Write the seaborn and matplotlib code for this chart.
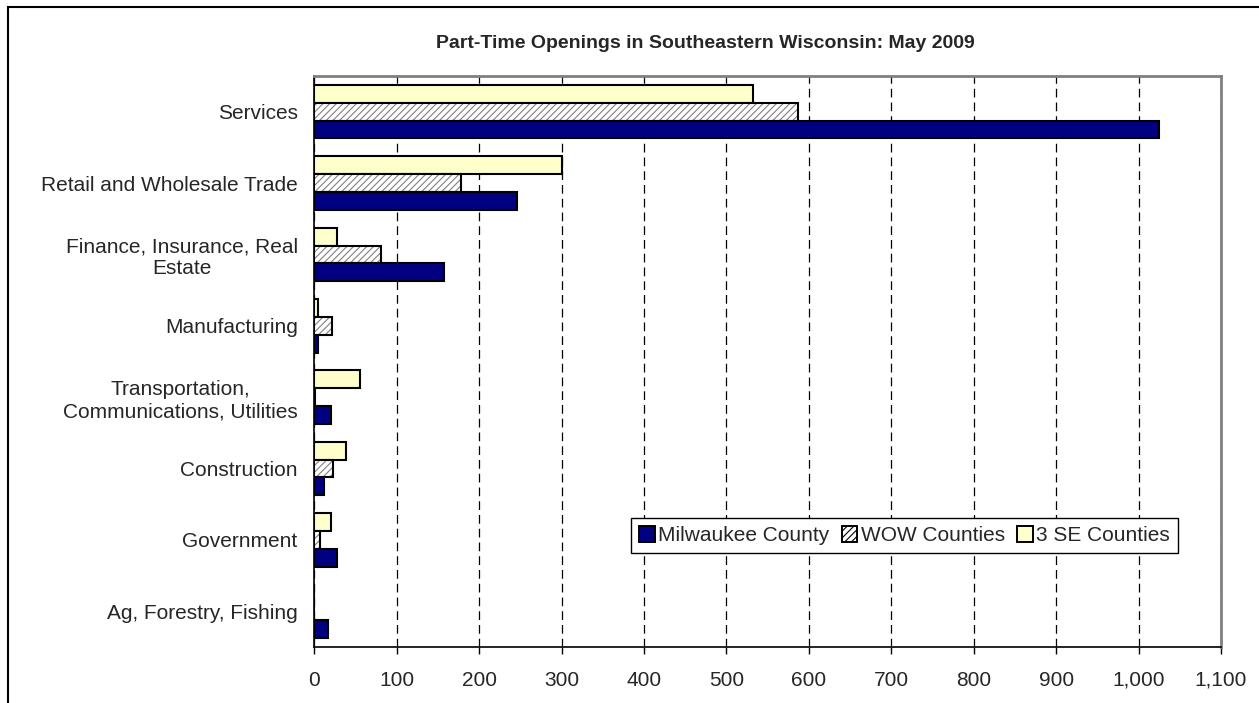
import matplotlib
matplotlib.use("Agg")
import matplotlib.pyplot as plt
import matplotlib.patches as mpatches
from matplotlib.ticker import FuncFormatter, MultipleLocator, FixedLocator
import seaborn as sns
import pandas as pd

# chart data
industries = [
    "Services",
    "Retail and Wholesale Trade",
    "Finance, Insurance, Real\nEstate",
    "Manufacturing",
    "Transportation,\nCommunications, Utilities",
    "Construction",
    "Government",
    "Ag, Forestry, Fishing",
]
milwaukee = [1025, 246, 157, 4, 20, 12, 27, 17]
wow = [587, 178, 81, 22, 1, 23, 7, 0]
se3 = [532, 300, 27, 5, 56, 38, 20, 0]

series_names = ["Milwaukee County", "WOW Counties", "3 SE Counties"]
colors = {"Milwaukee County": "#000080", "WOW Counties": "#FFFFFF", "3 SE Counties": "#FFFFCC"}

df = pd.DataFrame({
    "Industry": industries * 3,
    "Openings": milwaukee + wow + se3,
    "Region": [series_names[0]] * 8 + [series_names[1]] * 8 + [series_names[2]] * 8,
})

sns.set_style("white")
plt.rcParams["font.family"] = ["Liberation Sans", "DejaVu Sans"]
plt.rcParams["hatch.linewidth"] = 0.8

fig = plt.figure(figsize=(12.59, 7.03), dpi=100)
ax = fig.add_axes([314.3 / 1259, 1 - 647 / 703, (1221 - 314.3) / 1259, 571 / 703])

# draw order top->bottom inside each group: 3 SE, WOW, Milwaukee
draw_order = ["3 SE Counties", "WOW Counties", "Milwaukee County"]
sns.barplot(data=df, y="Industry", x="Openings", hue="Region", hue_order=draw_order,
            order=industries, orient="h", width=0.75, palette=colors,
            edgecolor="black", linewidth=1.5, saturation=1, legend=False, ax=ax)

# hatch WOW bars with grey lines, keep black outline on top
for bar in ax.containers[1]:
    bar.set_hatch("/////")
    bar.set_edgecolor("#808080")
    bar.set_linewidth(0)
    outline = mpatches.Rectangle(bar.get_xy(), bar.get_width(), bar.get_height(),
                                 fill=False, edgecolor="black", linewidth=1.5, zorder=bar.get_zorder() + 0.1)
    ax.add_patch(outline)

ax.set_xlim(0, 1100)
ax.set_ylim(len(industries) - 0.5, -0.5)
ax.xaxis.set_major_locator(MultipleLocator(100))
ax.xaxis.set_major_formatter(FuncFormatter(lambda v, p: f"{int(v):,}"))
ax.xaxis.grid(True, color="black", linestyle=(0, (7, 4)), linewidth=0.9)
ax.yaxis.grid(False)
ax.set_axisbelow(True)

ax.yaxis.set_minor_locator(FixedLocator([i - 0.5 for i in range(len(industries) + 1)]))
ax.tick_params(axis="y", which="major", length=0, pad=12, labelsize=15)
ax.tick_params(axis="y", which="minor", length=5, width=1, color="black", direction="out")
ax.tick_params(axis="x", which="major", length=5, width=1, color="black", direction="out",
               pad=12, labelsize=15, bottom=True)
for lbl in ax.get_yticklabels():
    lbl.set_multialignment("center")

ax.set_xlabel("")
ax.set_ylabel("")
for side in ["left", "bottom"]:
    ax.spines[side].set_color("black")
    ax.spines[side].set_linewidth(1.2)
for side in ["top", "right"]:
    ax.spines[side].set_color("#808080")
    ax.spines[side].set_linewidth(2)

# legend in series order
handles = [
    mpatches.Patch(facecolor=colors["Milwaukee County"], edgecolor="black", linewidth=1.4),
    mpatches.Patch(facecolor="#FFFFFF", edgecolor="black", hatch="/////", linewidth=1.4),
    mpatches.Patch(facecolor=colors["3 SE Counties"], edgecolor="black", linewidth=1.4),
]
leg = ax.legend(handles, series_names, ncol=3, loc="center", bbox_to_anchor=(0.651, 0.195),
                fontsize=15, frameon=True, fancybox=False, framealpha=1, edgecolor="black",
                handlelength=0.75, handleheight=0.75, handletextpad=0.15, columnspacing=0.6,
                borderpad=0.4, borderaxespad=0)
leg.get_frame().set_linewidth(1)

fig.text(705 / 1259, 1 - 43 / 703, "Part-Time Openings in Southeastern Wisconsin: May 2009",
         ha="center", va="center", fontsize=14, fontweight="bold")

# outer chart border (left and top edges visible)
fig.patches.append(mpatches.Rectangle((8 / 1259, -0.1), 1.2, 1.1 - 7 / 703, transform=fig.transFigure,
                                      fill=False, edgecolor="black", linewidth=1.5))

fig.savefig("out.png", dpi=100)
